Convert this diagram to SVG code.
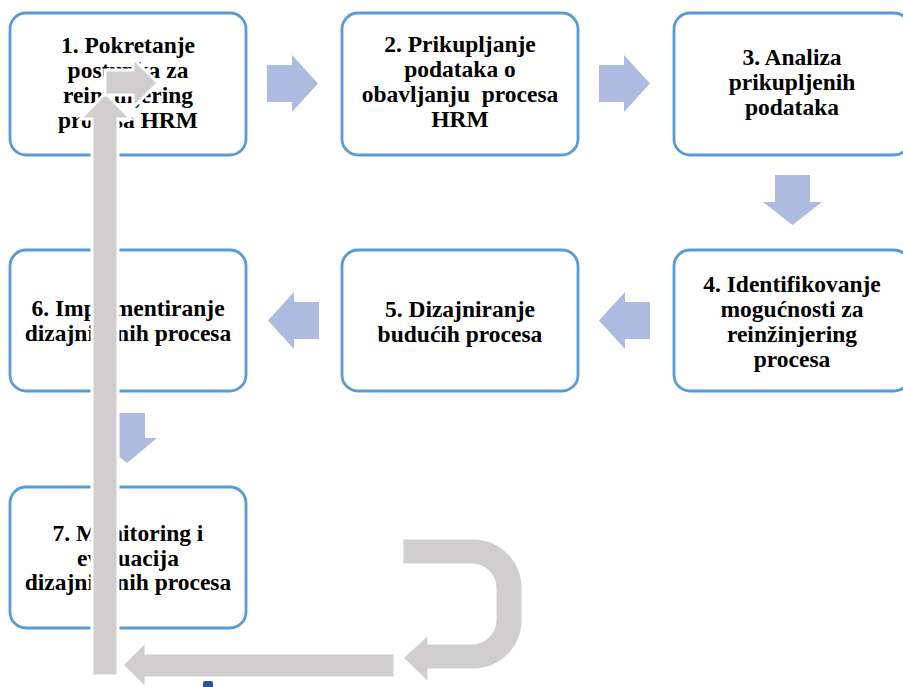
<svg xmlns="http://www.w3.org/2000/svg" width="903" height="687" viewBox="0 0 903 687">
  <style>
    .box { fill: #ffffff; stroke: #5b9bd5; stroke-width: 2.8; }
    .lbl { font-family: "Liberation Serif", "Times New Roman", "DejaVu Serif", serif; font-weight: bold; font-size: 23.5px; fill: #000000; text-anchor: middle; white-space: pre; }
    .step { fill: #aebbe0; }
    .loop { fill: #d0cece; stroke: #ffffff; stroke-width: 3; stroke-linejoin: miter; }
  </style>
  <rect width="903" height="687" fill="#ffffff"/>

  <!-- process steps -->
  <g id="node1">
    <rect class="box" x="10" y="13" width="236" height="142" rx="16"/>
    <text class="lbl" x="128" y="53">1. Pokretanje</text>
    <text class="lbl" x="128" y="78">postupka za</text>
    <text class="lbl" x="128" y="103">reinžinjering</text>
    <text class="lbl" x="128" y="128">procesa HRM</text>
  </g>
  <g id="node2">
    <rect class="box" x="342" y="13" width="236" height="142" rx="16"/>
    <text class="lbl" x="460" y="52">2. Prikupljanje</text>
    <text class="lbl" x="460" y="77">podataka o</text>
    <text class="lbl" x="460" y="102">obavljanju  procesa</text>
    <text class="lbl" x="460" y="127">HRM</text>
  </g>
  <g id="node3">
    <rect class="box" x="674" y="13" width="236" height="142" rx="16"/>
    <text class="lbl" x="792" y="65">3. Analiza</text>
    <text class="lbl" x="792" y="90">prikupljenih</text>
    <text class="lbl" x="792" y="115">podataka</text>
  </g>
  <g id="node4">
    <rect class="box" x="674" y="250" width="236" height="141" rx="16"/>
    <text class="lbl" x="792" y="292">4. Identifikovanje</text>
    <text class="lbl" x="792" y="317">mogućnosti za</text>
    <text class="lbl" x="792" y="342">reinžinjering</text>
    <text class="lbl" x="792" y="367">procesa</text>
  </g>
  <g id="node5">
    <rect class="box" x="342" y="250" width="236" height="141" rx="16"/>
    <text class="lbl" x="460" y="317">5. Dizajniranje</text>
    <text class="lbl" x="460" y="342">budućih procesa</text>
  </g>
  <g id="node6">
    <rect class="box" x="10" y="250" width="236" height="141" rx="16"/>
    <text class="lbl" x="128" y="316">6. Implementiranje</text>
    <text class="lbl" x="128" y="341">dizajniranih procesa</text>
  </g>
  <g id="node7">
    <rect class="box" x="10" y="487" width="236" height="141" rx="16"/>
    <text class="lbl" x="128" y="541">7. Monitoring i</text>
    <text class="lbl" x="128" y="565.5">evaluacija</text>
    <text class="lbl" x="128" y="590">dizajniranih procesa</text>
  </g>

  <g id="connectors">
    <!-- step arrows between the boxes -->
    <polygon class="step" points="267,65 292,65 292,55 318,83.5 292,112 292,102 267,102"/>
    <polygon class="step" points="599,65 624,65 624,55 650,83.5 624,112 624,102 599,102"/>
    <polygon class="step" points="775,175 810,175 810,202 822,202 792.5,225 763,202 775,202"/>
    <polygon class="step" points="650,302 625,302 625,292 599,320.5 625,349 625,339 650,339"/>
    <polygon class="step" points="319,302 294,302 294,292 268,320.5 294,349 294,339 319,339"/>
    <polygon class="step" points="109,413 145,413 145,438 157,438 127,463 97,438 109,438"/>

    <!-- feedback loop back to the first step -->
    <path class="loop" d="M402,538 H473 A50,50 0 0 1 523,588 V620 A50,50 0 0 1 473,670 H429 V684 L402,658 L429,633 V643 H473 A23,23 0 0 0 495,620 V588 A23,23 0 0 0 473,565 H402 Z"/>
    <polygon class="loop" points="395,653 146,653 146,641 122,665 146,689 146,678 395,678"/>
    <polygon class="loop" points="92,676 92,119 80,119 105.5,93 131,119 118,119 118,676"/>
    <polygon class="loop" points="105,70 133,70 133,58 158,83 133,108 133,95 105,95"/>
  </g>

  <!-- small marker at the lower edge -->
  <rect x="203" y="681" width="10" height="8" rx="2" fill="#2e5597"/>
</svg>
